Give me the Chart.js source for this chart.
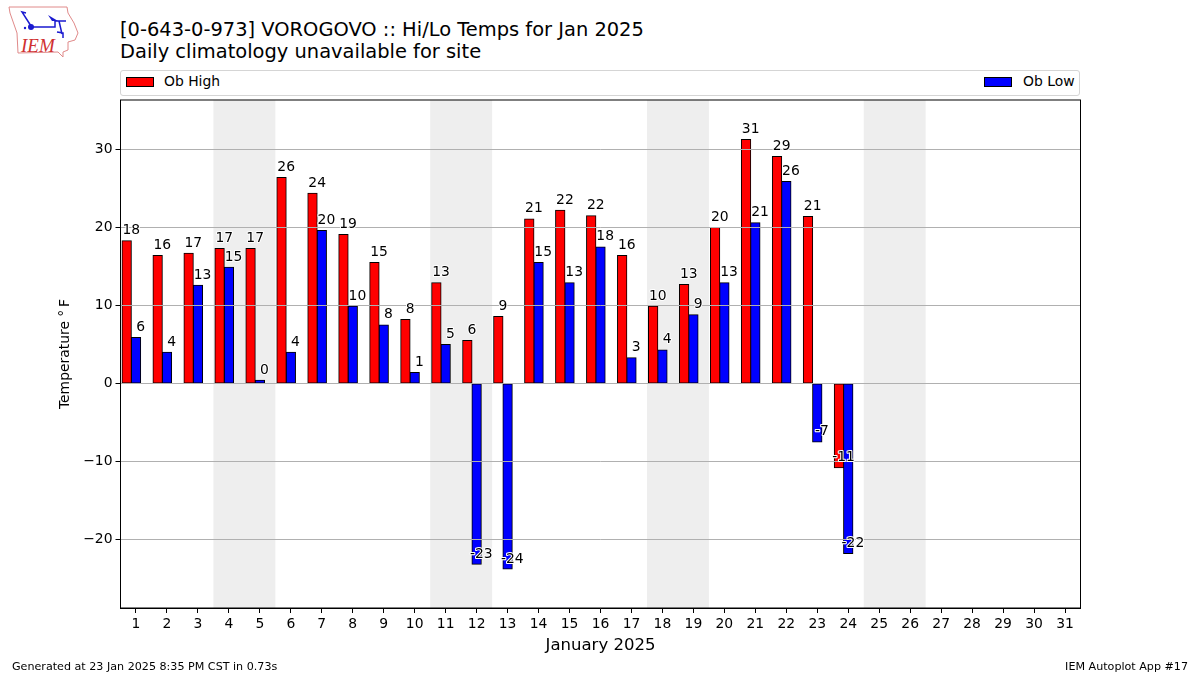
<!DOCTYPE html>
<html>
<head>
<meta charset="utf-8">
<title>VOROGOVO Hi/Lo Temps</title>
<script src="https://cdn.jsdelivr.net/npm/chart.js@4"></script>
<style>
    html, body { margin: 0; padding: 0; background: #fff; }
    body { width: 1200px; height: 675px; position: relative; overflow: hidden; font-family: "DejaVu Sans", sans-serif; color: #000; }
    #grafico { position: absolute; left: 0; top: 0; }
    .txt { position: absolute; white-space: nowrap; }
    #titulo { left: 120px; top: 19px; font-size: 19.44px; line-height: 22px; }
    #legenda { position: absolute; left: 120px; top: 70px; width: 958px; height: 23.5px; border: 1px solid #d5d5d5; border-radius: 3px; }
    .patch { position: absolute; top: 6px; width: 26px; height: 8px; border: 1px solid #000; }
    .leg { font-size: 13.9px; top: 2px; }
    .foot { font-size: 11.13px; top: 660px; }
</style>
</head>
<body>
<svg style="position:absolute;left:0;top:0" width="90" height="62">
    <path d="M9 7 L67 7 L68 13 L74 23 L78 33 L75 40 L68 42 L68 50 L63 52 L63 57 L58 52 L18 53 L17 33 L10 13 Z" fill="none" stroke="#e08a8a" stroke-width="1"/>
    <path d="M32 27 L55 27 L55 21 L66 21 M31 26 L22 12 L26 13 M59 21 L62 34 M57 32 L63 33 L63 38" fill="none" stroke="#1a1ad0" stroke-width="1.5"/>
    <path d="M48 15 L58 21 L52 21 Z" fill="#1a1ad0"/>
    <circle cx="31" cy="27" r="3" fill="#1a1ad0"/>
    <circle cx="25" cy="28" r="1.2" fill="#1a1ad0"/>
    <text x="21" y="52" font-family="Liberation Serif" font-style="italic" font-size="19" fill="#d03030">IEM</text>
</svg>
<div class="txt" id="titulo">[0-643-0-973] VOROGOVO :: Hi/Lo Temps for Jan 2025<br>Daily climatology unavailable for site</div>
<div id="legenda">
    <div class="patch" style="left:5px;background:#f00"></div>
    <div class="txt leg" style="left:43px">Ob High</div>
    <div class="patch" style="left:863px;background:#00f"></div>
    <div class="txt leg" style="left:902px">Ob Low</div>
</div>
<canvas id="grafico" width="1200" height="675"></canvas>
<div class="txt foot" style="left:12px">Generated at 23 Jan 2025 8:35 PM CST in 0.73s</div>
<div class="txt foot" style="right:12px">IEM Autoplot App #17</div>
<script>
const dias = ["1","2","3","4","5","6","7","8","9","10","11","12","13","14","15","16","17","18","19","20","21","22","23","24","25","26","27","28","29","30","31"];

const obHigh = [18.3,16.4,16.7,17.3,17.3,26.4,24.4,19.1,15.5,8.2,12.9,5.5,8.6,21.1,22.2,21.5,16.4,9.9,12.7,20.0,31.3,29.1,21.4,-10.8,null,null,null,null,null,null,null];
const obLow = [5.9,4.0,12.6,14.9,0.4,4.0,19.6,9.9,7.5,1.4,5.0,-23.2,-23.8,15.5,12.9,17.5,3.3,4.3,8.8,12.9,20.6,25.9,-7.5,-21.8,null,null,null,null,null,null,null];

const highLabels = ["18","16","17","17","17","26","24","19","15","8","13","6","9","21","22","22","16","10","13","20","31","29","21","-11"];
const lowLabels = ["6","4","13","15","0","4","20","10","8","1","5","-23","-24","15","13","18","3","4","9","13","21","26","-7","-22"];

const yTicks = [-20, -10, 0, 10, 20, 30];
// first day of each shaded weekend
const fimDeSemana = [4, 11, 18, 25];

const fonte = "DejaVu Sans";

const fundo = {
    id: "fundo",
    beforeDatasetsDraw(chart) {
        const { ctx, chartArea, scales } = chart;
        const w = scales.x.getPixelForValue(1) - scales.x.getPixelForValue(0);
        ctx.save();
        ctx.fillStyle = "#eeeeee";
        fimDeSemana.forEach(function (d) {
            const c = scales.x.getPixelForValue(d - 1);
            ctx.fillRect(c - w / 2, chartArea.top, w * 2, chartArea.height);
        });
        ctx.restore();
    }
};

const rotulos = {
    id: "rotulos",
    afterDraw(chart) {
        const { ctx, chartArea } = chart;
        ctx.save();
        // moldura
        ctx.strokeStyle = "#000";
        ctx.lineWidth = 1;
        ctx.strokeRect(chartArea.left, chartArea.top, chartArea.width, chartArea.height);

        ctx.font = "13.9px '" + fonte + "'";
        ctx.textAlign = "center";
        ctx.textBaseline = "alphabetic";
        ctx.lineJoin = "round";
        [highLabels, lowLabels].forEach(function (lista, s) {
            const barras = chart.getDatasetMeta(s).data;
            lista.forEach(function (txt, i) {
                const x = barras[i].x + barras[i].width / 2;
                const y = barras[i].y - 6.5;
                ctx.strokeStyle = "#fff";
                ctx.lineWidth = 2;
                ctx.strokeText(txt, x, y);
                ctx.fillStyle = "#000";
                ctx.fillText(txt, x, y);
            });
        });
        ctx.restore();
    }
};

new Chart(document.getElementById("grafico"), {
    type: "bar",
    data: {
        labels: dias,
        datasets: [
            { label: "Ob High", data: obHigh, backgroundColor: "#ff0000", borderColor: "#000", borderWidth: 1, borderSkipped: false, inflateAmount: 0.5, categoryPercentage: 0.9, barPercentage: 1 },
            { label: "Ob Low", data: obLow, backgroundColor: "#0000ff", borderColor: "#000", borderWidth: 1, borderSkipped: false, inflateAmount: 0.5, categoryPercentage: 0.9, barPercentage: 1 },
            // empty slot, keeps the pair left of the tick like the original
            { label: "", data: [], categoryPercentage: 0.9, barPercentage: 1 }
        ]
    },
    options: {
        responsive: false,
        animation: false,
        layout: { padding: { left: 57, right: 119.5, top: 100, bottom: 18 } },
        plugins: {
            legend: { display: false },
            tooltip: { enabled: false }
        },
        scales: {
            x: {
                grid: { drawOnChartArea: false, offset: false, tickLength: 5, tickColor: "#000" },
                border: { color: "#000" },
                ticks: { color: "#000", font: { family: fonte, size: 13.9 }, maxRotation: 0, autoSkip: false, padding: 3 },
                title: { display: true, text: "January 2025", color: "#000", font: { family: fonte, size: 16.55 }, padding: { top: 0, bottom: 1 } },
                afterFit(scale) { scale.height = 49; }
            },
            y: {
                min: -28.8,
                max: 36.35,
                afterBuildTicks(scale) {
                    scale.ticks = yTicks.map(function (v) { return { value: v }; });
                },
                grid: { color: "#b0b0b0", z: 1, tickLength: 5, tickColor: "#000" },
                border: { display: false },
                ticks: {
                    color: "#000",
                    font: { family: fonte, size: 13.9 },
                    padding: 3,
                    callback(v) { return String(v).replace("-", "\u2212"); }
                },
                title: { display: true, text: "Temperature \u00b0\u2009F", color: "#000", font: { family: fonte, size: 13.9 }, padding: 0 },
                afterFit(scale) { scale.width = 63.5; }
            }
        }
    },
    plugins: [fundo, rotulos]
});
</script>
</body>
</html>
